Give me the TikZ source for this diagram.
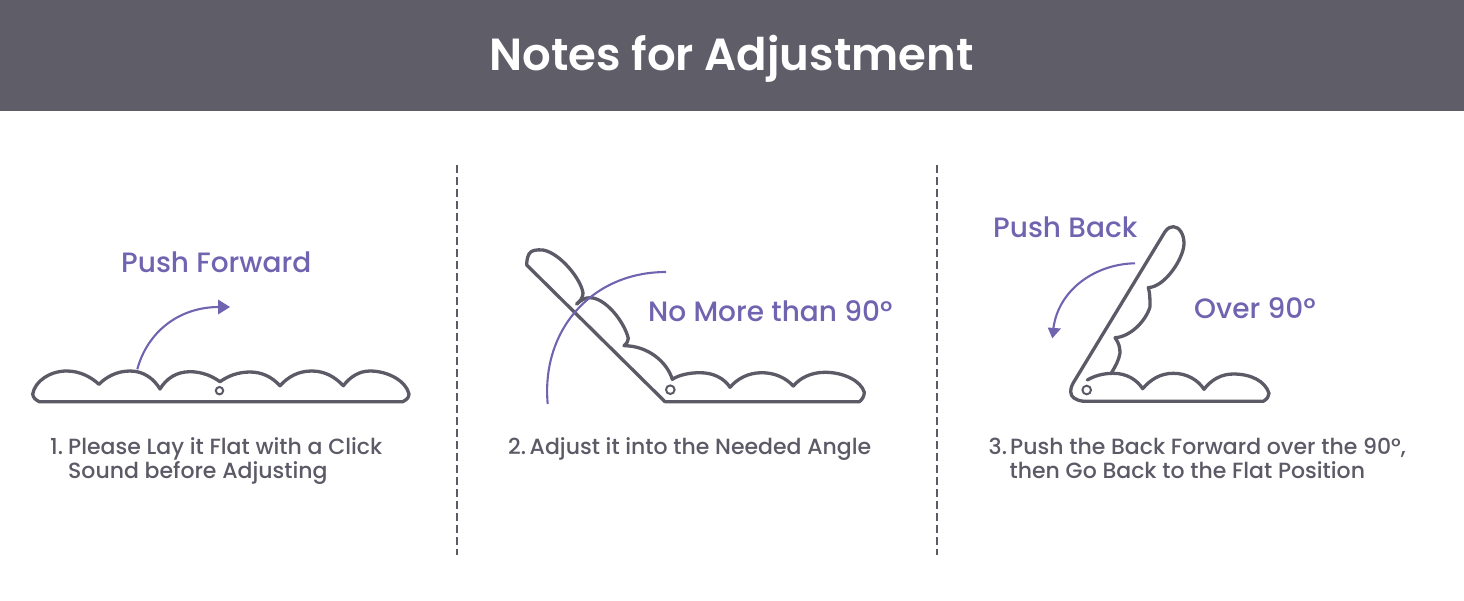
\documentclass[tikz,border=0pt]{standalone}
\usepackage{fontspec}
\setmainfont{Poppins Medium}
\newfontfamily\titlefont{Poppins SemiBold}
\usetikzlibrary{arrows.meta}
\definecolor{slate}{HTML}{5F5D68}
\definecolor{ink}{HTML}{5C5A66}
\definecolor{violet}{HTML}{7064B1}
\tikzset{
  cushion/.style={draw=ink,line width=3.3pt,line join=round,line cap=round},
  pivot/.style={draw=ink,line width=2pt},
  motion/.style={draw=violet,line width=2.1pt},
  motionhead/.style={fill=violet,draw=none},
  divider/.style={draw=ink,line width=2pt,dash pattern=on 8pt off 4pt},
  caption/.style={anchor=base west,inner sep=0pt,text=ink,font=\fontsize{22}{24}\selectfont},
  callout/.style={anchor=base west,inner sep=0pt,text=violet,font=\fontsize{28}{30}\selectfont}
}
\begin{document}
\begin{tikzpicture}[x=1pt,y=-1pt]
\useasboundingbox (0,0) rectangle (1464,600);
\fill[white] (0,0) rectangle (1464,600);
\fill[slate] (0,0) rectangle (1464,111);
\node[anchor=base,inner sep=0pt,text=white,font=\titlefont\fontsize{45}{47}\selectfont] (title) at (731.5,70) {Notes for Adjustment};

% panel separators
\draw[divider] (457,165) -- (457,555);
\draw[divider] (937,165) -- (937,555);

% flat cushion
\draw[cushion] (39.3,401.7) -- (402.7,401.7)
  .. controls (406,400) and (409,398) .. (409,394)
  .. controls (406,381) and (388,371) .. (370,371)
  .. controls (359,371) and (350,377) .. (343.3,385.7)
  .. controls (335,377) and (325,371) .. (311.7,371)
  .. controls (298,371) and (288,377) .. (280,385.7)
  .. controls (272,377) and (262,372) .. (250,372)
  .. controls (238,372) and (228,376) .. (220,381.7)
  .. controls (212,376) and (202,371.7) .. (190,371.7)
  .. controls (176,371.7) and (166,379) .. (160,389)
  .. controls (154,379) and (144,371) .. (130,371)
  .. controls (117,371) and (106,377) .. (99,384.3)
  .. controls (91,377) and (80,371) .. (66.7,371)
  .. controls (50,371) and (35,381) .. (32.7,394)
  .. controls (33,398) and (36,400) .. (39.3,401.7) -- cycle;
\draw[pivot] (219.5,390.7) circle (3.7);
\draw[motion] (137.3,369.3) .. controls (147,333) and (178,307) .. (219,307);
\fill[motionhead] (230,307) -- (218,299.5) -- (218,314.5) -- cycle;
\node[callout] (forward) at (121,272) {Push Forward};
\node[caption] (num1) at (50,454) {1.};
\node[caption] (cap1a) at (68,454) {Please Lay it Flat with a Click};
\node[caption] (cap1b) at (68,478) {Sound before Adjusting};

% cushion raised below ninety degrees
\draw[cushion] (665,401.7) -- (859.3,401.7)
  .. controls (862,400) and (864.3,396) .. (864.3,392.3)
  .. controls (861,381) and (844,372.3) .. (825,372.3)
  .. controls (811,372.3) and (800,378) .. (793.3,386)
  .. controls (786,378) and (775,372.7) .. (761.7,372.7)
  .. controls (748,372.7) and (737,379) .. (730,387.3)
  .. controls (724,378) and (713,372.7) .. (700,372.7)
  .. controls (689,372.7) and (679,375) .. (672.3,379.3)
  .. controls (667,362) and (648,345.7) .. (624,345.7)
  .. controls (627,343) and (628.3,341) .. (628.3,338.3)
  .. controls (624,321) and (605,297.7) .. (590,297.7)
  .. controls (585,297.7) and (581,300) .. (576.7,304);
\draw[cushion] (576.7,304) .. controls (580,301) and (583,298) .. (583,293)
  .. controls (581,279) and (560,253) .. (543,250)
  .. controls (537,249.5) and (531,250) .. (529,254)
  .. controls (527,258) and (526.7,262) .. (526.7,265) -- (665,401.7);
\draw[pivot] (670.3,389.7) circle (4.3);
\draw[motion] (547.7,404) .. controls (541,330) and (592,272) .. (666,272);
\node[callout] (limit) at (648,321) {No More than 90º};
\node[caption] (num2) at (508,454) {2.};
\node[caption] (cap2) at (529.5,454) {Adjust it into the Needed Angle};

% cushion pushed past ninety degrees
\draw[cushion] (1083.3,401.3) -- (1263.3,401.3)
  .. controls (1267,399) and (1269,396.5) .. (1269,393.3)
  .. controls (1265,381) and (1251,374) .. (1233.3,374)
  .. controls (1221,374) and (1211,380) .. (1204,389.3)
  .. controls (1198,380) and (1187,373.3) .. (1173.3,373.3)
  .. controls (1160,373.3) and (1150,380) .. (1142.7,388.7)
  .. controls (1137,380) and (1127,373.3) .. (1113.3,373.3)
  .. controls (1103,373.3) and (1094,376) .. (1087.3,380);
\draw[cushion] (1083.3,401.3) .. controls (1075,400) and (1070.7,397) .. (1070.7,391.7)
  .. controls (1070.7,387) and (1072.5,384) .. (1075,380) -- (1165,231.7)
  .. controls (1168,227.5) and (1171,226.7) .. (1173.3,226.7)
  .. controls (1179,226.7) and (1184,234) .. (1184,243.3)
  .. controls (1184,258) and (1165,287) .. (1148.3,287.6)
  .. controls (1150,293) and (1150,300) .. (1150,306.7)
  .. controls (1146,321) and (1130,337) .. (1115,337.7)
  .. controls (1119,343) and (1120,348) .. (1120,353)
  .. controls (1119,360) and (1115,367) .. (1111.7,372.3);
\draw[pivot] (1086.7,390) circle (4.3);
\draw[motion] (1135,263.3) .. controls (1095,264) and (1058,290) .. (1053.3,329);
\fill[motionhead] (1052.3,338.3) -- (1047.7,327.5) -- (1061,328.5) -- cycle;
\node[callout] (back) at (993,237) {Push Back};
\node[callout] (over) at (1194,318) {Over 90º};
\node[caption] (num3) at (988.5,454) {3.};
\node[caption] (cap3a) at (1010,454) {Push the Back Forward over the 90º,};
\node[caption] (cap3b) at (1009.5,478) {then Go Back to the Flat Position};
\end{tikzpicture}
\end{document}
